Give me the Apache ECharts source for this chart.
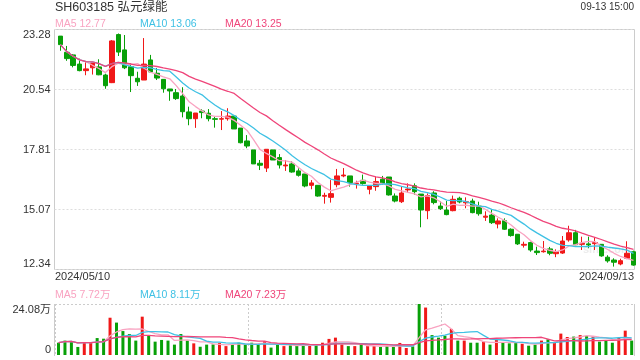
<!DOCTYPE html>
<html><head><meta charset="utf-8">
<script src="https://cdn.jsdelivr.net/npm/echarts@6/dist/echarts.min.js"></script>
<style>html,body{margin:0;padding:0;background:#fff}#c{width:640px;height:360px}</style>
</head><body><div id="c"></div>
<script>
const title = 'SH603185 弘元绿能';
const timeLabel = '09-13 15:00';
const dates = [
 '2024/05/10','2024/05/13','2024/05/14','2024/05/15','2024/05/16','2024/05/17','2024/05/20','2024/05/21','2024/05/22','2024/05/23','2024/05/24','2024/05/27','2024/05/28','2024/05/29','2024/05/30','2024/05/31',
 '2024/06/03','2024/06/04','2024/06/05','2024/06/06','2024/06/07','2024/06/11','2024/06/12','2024/06/13','2024/06/14','2024/06/17','2024/06/18','2024/06/19','2024/06/20','2024/06/21','2024/06/24','2024/06/25','2024/06/26','2024/06/27','2024/06/28',
 '2024/07/01','2024/07/02','2024/07/03','2024/07/04','2024/07/05','2024/07/08','2024/07/09','2024/07/10','2024/07/11','2024/07/12','2024/07/15','2024/07/16','2024/07/17','2024/07/18','2024/07/19','2024/07/22','2024/07/23','2024/07/24','2024/07/25','2024/07/26','2024/07/29','2024/07/30','2024/07/31',
 '2024/08/01','2024/08/02','2024/08/05','2024/08/06','2024/08/07','2024/08/08','2024/08/09','2024/08/12','2024/08/13','2024/08/14','2024/08/15','2024/08/16','2024/08/19','2024/08/20','2024/08/21','2024/08/22','2024/08/23','2024/08/26','2024/08/27','2024/08/28','2024/08/29','2024/08/30',
 '2024/09/02','2024/09/03','2024/09/04','2024/09/05','2024/09/06','2024/09/09','2024/09/10','2024/09/11','2024/09/12','2024/09/13'
];
const openP = [23.00,22.26,22.14,21.72,21.42,21.55,21.59,21.22,20.87,23.07,
 22.37,21.60,21.07,20.99,21.91,21.30,21.02,20.58,20.41,20.26,
 19.53,19.22,19.57,19.47,19.22,19.20,19.22,19.34,18.79,18.20,
 17.79,17.18,16.96,17.79,17.44,17.06,17.15,16.83,16.69,16.17,
 16.17,15.67,15.62,16.20,16.60,16.60,16.24,16.40,15.99,16.11,
 16.45,16.55,15.68,15.42,15.96,16.15,15.77,15.01,15.82,15.22,
 15.04,15.01,15.58,15.37,15.45,15.22,14.71,14.81,14.40,14.55,
 14.16,13.93,13.43,13.55,13.16,13.13,13.26,13.04,13.07,13.67,
 14.00,13.47,13.49,13.50,13.47,12.88,12.75,12.57,12.83,13.13];
const closeP = [22.61,21.97,21.66,21.42,21.50,21.77,21.23,20.73,22.78,22.27,
 21.55,21.19,20.91,21.72,21.36,21.08,20.59,20.49,20.14,19.54,
 19.22,19.48,19.50,19.22,19.19,19.22,19.34,18.75,18.12,17.97,
 17.15,17.09,17.82,17.33,17.10,17.10,16.78,16.63,16.14,16.28,
 15.68,15.71,15.79,16.60,16.64,16.29,16.27,16.25,16.15,16.34,
 16.26,15.73,15.45,15.82,16.00,15.88,15.04,15.70,15.38,15.10,
 14.83,15.53,15.41,15.42,14.92,14.87,14.76,14.46,14.54,14.16,
 13.87,13.49,13.47,13.21,13.09,13.16,13.06,13.13,13.62,14.00,
 13.45,13.52,13.44,13.55,12.94,12.71,12.65,12.72,13.06,12.52];
const lowP = [22.33,21.87,21.57,21.39,21.21,21.24,21.21,20.59,20.85,22.09,
 21.49,20.44,20.72,20.99,21.36,20.99,20.41,20.04,20.08,19.28,
 18.92,18.80,19.24,19.10,18.81,18.70,19.13,18.75,18.09,17.87,
 17.15,16.87,16.78,17.33,16.94,16.83,16.75,16.57,16.08,15.99,
 15.65,15.33,15.38,16.08,16.54,16.11,16.02,16.20,15.76,15.92,
 16.20,15.70,15.39,15.36,15.83,15.74,14.25,14.62,15.30,15.04,
 14.80,14.98,15.35,15.12,14.89,14.78,14.54,14.40,14.20,14.13,
 13.82,13.44,13.32,13.13,12.98,13.09,12.97,12.88,13.03,13.59,
 13.43,13.21,13.29,13.21,12.90,12.63,12.45,12.51,12.79,12.49];
const highP = [23.00,22.55,22.18,21.97,21.80,21.77,21.94,21.28,22.82,23.12,
 23.05,21.75,21.37,22.91,22.14,21.54,21.02,20.58,20.58,20.66,
 19.77,19.48,19.65,19.66,19.31,19.57,19.70,19.34,18.79,18.47,
 17.79,17.33,17.83,17.79,17.60,17.33,17.27,16.95,16.69,16.41,
 16.18,15.83,16.41,16.92,16.96,16.60,16.38,16.66,16.15,16.57,
 16.60,16.55,15.80,16.11,16.26,16.26,15.77,15.80,15.90,15.44,
 15.45,15.70,15.65,15.62,15.56,15.42,14.98,15.07,14.66,14.66,
 14.20,13.94,13.59,13.59,13.36,13.62,13.35,13.24,13.85,14.32,
 14.13,13.82,13.82,13.79,13.47,12.97,12.83,12.81,13.61,13.18];
const volume = [5.8,6.8,6.6,3.8,6.0,5.8,8.0,7.7,17.6,15.3,
 11.3,9.9,6.8,18.1,9.4,6.3,7.1,6.8,4.9,9.9,
 6.8,5.5,3.9,4.9,5.0,5.7,4.2,5.2,5.8,4.9,
 5.8,4.9,6.5,3.5,5.0,4.2,4.6,4.6,5.2,4.4,
 4.7,5.8,7.6,8.2,4.9,4.2,4.2,4.9,4.2,4.2,
 3.8,4.2,3.8,5.7,3.3,4.1,24.08,22.4,9.4,8.2,
 9.1,12.3,6.8,6.8,5.8,5.8,6.3,4.9,7.2,5.8,
 5.5,5.8,5.3,4.4,4.9,6.8,7.4,5.8,10.1,8.5,
 8.7,9.4,9.0,8.7,6.3,6.9,5.8,8.0,11.5,6.8];
const priceTicks = ['12.34','15.07','17.81','20.54','23.28'];
const volTicks = ['0','24.08万'];
const dateTicks = ['2024/05/10','2024/09/13'];
const priceLegend = ['MA5 12.77','MA10 13.06','MA20 13.25'];
const volLegend = ['MA5 7.72万','MA10 8.11万','MA20 7.23万'];
const maPeriods = [5,10,20];

const UP='#f01818', DOWN='#08a008';
const MA_COLORS=['#f9a3c1','#3fc1e4','#ef457a'];
const FONT='"Liberation Sans", Arial, "Noto Sans CJK SC", sans-serif';

function ma(arr,n){return arr.map((_,i)=>{const s=Math.max(0,i-n+1);let t=0;for(let k=s;k<=i;k++)t+=arr[k];return +(t/(i-s+1)).toFixed(3);});}

const pMin=+priceTicks[0], pMax=+priceTicks[priceTicks.length-1];
const pStep=+((pMax-pMin)/(priceTicks.length-1)).toFixed(4);
const vMax=24.08;

const kdata=dates.map((_,i)=>[openP[i],closeP[i],lowP[i],highP[i]]);
const vdata=volume.map((v,i)=>({value:v,itemStyle:{color:closeP[i]>=openP[i]?UP:DOWN}}));

const chart=echarts.init(document.getElementById('c'),null,{renderer:'canvas'});
const hidden={show:false};
const series=[{
  type:'candlestick',xAxisIndex:1,yAxisIndex:1,data:kdata,barWidth:5,
  itemStyle:{color:UP,color0:DOWN,borderColor:UP,borderColor0:DOWN,borderWidth:1}
}];
maPeriods.forEach((n,j)=>series.push({type:'line',xAxisIndex:1,yAxisIndex:1,data:ma(closeP,n),showSymbol:false,symbol:'none',lineStyle:{width:1.3,color:MA_COLORS[j]},z:3}));
series.push({type:'bar',xAxisIndex:3,yAxisIndex:3,data:vdata,barWidth:3});
maPeriods.forEach((n,j)=>series.push({type:'line',xAxisIndex:3,yAxisIndex:3,data:ma(volume,n),showSymbol:false,symbol:'none',lineStyle:{width:1.3,color:MA_COLORS[j]},z:3}));

function txt(t,x,y,size,fill,align){return {type:'text',x:x,y:y,silent:true,style:{text:t,font:size+'px '+FONT,fill:fill,align:align||'left',verticalAlign:'middle'}};}
const graphic=[
  txt(title,55,8,12.5,'#333'),
  txt(timeLabel,634,7,10,'#333','right'),
  txt(priceLegend[0],55,24,10.5,MA_COLORS[0]),
  txt(priceLegend[1],140,24,10.5,MA_COLORS[1]),
  txt(priceLegend[2],225,24,10.5,MA_COLORS[2]),
  txt(dateTicks[0],55,277,11,'#333'),
  txt(dateTicks[1],634,277,11,'#333','right'),
  txt(volLegend[0],55,295,10.5,MA_COLORS[0]),
  txt(volLegend[1],140,295,10.5,MA_COLORS[1]),
  txt(volLegend[2],225,295,10.5,MA_COLORS[2]),
  {type:'text',x:583,y:250,silent:true,z:-1,style:{text:'sina.com',font:'bold 11px '+FONT,fill:'#ececec',verticalAlign:'middle'}},
  {type:'line',silent:true,shape:{x1:54.5,y1:304,x2:54.5,y2:356},style:{stroke:'#ccc',lineWidth:1}},
  {type:'line',silent:true,shape:{x1:634.5,y1:304,x2:634.5,y2:356},style:{stroke:'#ccc',lineWidth:1}},
  {type:'line',silent:true,shape:{x1:55,y1:304.5,x2:634,y2:304.5},style:{stroke:'#ccc',lineWidth:1,lineDash:[2,2]}}
];

chart.setOption({
  animation:false,
  textStyle:{fontFamily:FONT},
  grid:[
    {left:54.5,right:5.5,top:29.5,height:240,show:true,borderColor:'#ccc',borderWidth:1,backgroundColor:'rgba(0,0,0,0)'},
    {left:57.1,right:3.3,top:30,height:239},
    {left:55,right:6,top:304,height:51},
    {left:55.3,right:5.1,top:304,height:51}
  ],
  xAxis:[
    {gridIndex:0,type:'value',min:0,max:1,show:false},
    {gridIndex:1,type:'category',data:dates,boundaryGap:true,show:false},
    {gridIndex:2,type:'value',min:0,max:3,interval:1,axisLine:hidden,axisTick:hidden,axisLabel:hidden,
      splitLine:{show:true,lineStyle:{color:'#ccc',type:[2,2],width:1}}},
    {gridIndex:3,type:'category',data:dates,boundaryGap:true,show:false}
  ],
  yAxis:[
    {gridIndex:0,type:'value',min:pMin,max:pMax,interval:pStep,axisLine:hidden,axisTick:hidden,
      axisLabel:{color:'#333',fontSize:11,fontFamily:FONT,margin:4,
        formatter:v=>priceTicks[Math.round((v-pMin)/pStep)],
        verticalAlignMinLabel:'bottom',verticalAlignMaxLabel:'top'},
      splitLine:{show:true,lineStyle:{color:'#ddd',type:[2,2],width:1}}},
    {gridIndex:1,type:'value',min:pMin,max:pMax,show:false},
    {gridIndex:2,type:'value',min:0,max:vMax,interval:vMax,axisLine:hidden,axisTick:hidden,splitLine:hidden,
      axisLabel:{color:'#333',fontSize:11,fontFamily:FONT,margin:4,
        formatter:v=>volTicks[v>0?1:0],
        verticalAlignMinLabel:'bottom',verticalAlignMaxLabel:'top'}},
    {gridIndex:3,type:'value',min:0,max:vMax,show:false}
  ],
  graphic:graphic,
  series:series
});
</script></body></html>
